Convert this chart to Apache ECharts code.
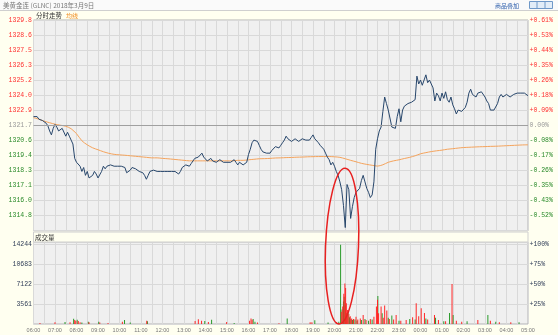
<!DOCTYPE html>
<html><head><meta charset="utf-8">
<script src="https://cdn.jsdelivr.net/npm/echarts@6/dist/echarts.min.js"></script>
<style>html,body{margin:0;padding:0;background:#fffff0}#c{width:558px;height:335px}</style>
</head><body><div id="c"></div>
<script>
const titleText = '美黄金连 (GLNC) 2018年3月9日';
const overlayText = '商品叠加';
const priceHeader = '分时走势';
const avgHeader = '均线';
const volHeader = '成交量';

const xLabels = ['06:00','07:00','08:00','09:00','10:00','11:00','12:00','13:00','14:00','15:00','16:00','17:00',
  '18:00','19:00','20:00','21:00','22:00','23:00','00:00','01:00','02:00','03:00','04:00','05:00'];
const priceTicks = ['1313.6','1314.8','1316.0','1317.1','1318.3','1319.4','1320.6','1321.7','1322.9','1324.0','1325.2','1326.3','1327.5','1328.6','1329.8'];
const pctTicks = ['-0.61%','-0.52%','-0.43%','-0.35%','-0.26%','-0.17%','-0.08%','0.00%','+0.09%','+0.18%','+0.26%','+0.35%','+0.44%','+0.53%','+0.61%'];
const volTicks = ['0','3561','7122','10683','14244'];
const volPctTicks = ['','+25%','+50%','+75%','+100%'];
const basePrice = 1321.73;
const priceStep = 1.1529;
const volStep = 3561;
const volTop = 14600;

// price every 5 minutes from 06:00
const prices = [
1322.4,1322.3,1322.4,1322.2,1322.3,1322.1,1322.2,1321.9,1321.7,1321.3,
1321.0,1321.5,1321.8,1321.6,1321.3,1321.2,1321.5,1321.6,1320.9,1321.2,
1320.9,1320.6,1320.3,1319.2,1318.9,1319.0,1318.6,1318.2,1318.5,1317.9,
1318.2,1317.7,1317.6,1317.9,1318.2,1318.0,1317.7,1317.6,1318.2,1318.6,
1318.4,1318.6,1318.6,1318.7,1318.6,1318.6,1318.7,1318.6,1318.5,1318.6,
1318.7,1318.5,1318.1,1318.2,1318.3,1318.5,1318.6,1318.4,1318.3,1318.2,
1318.2,1318.1,1317.9,1317.6,1317.9,1318.2,1318.3,1318.3,1318.2,1318.2,
1318.3,1318.2,1318.2,1318.2,1318.2,1318.2,1318.3,1318.2,1318.1,1318.2,
1318.2,1318.0,1318.2,1318.5,1318.6,1318.7,1318.6,1318.6,1318.8,1318.9,
1319.2,1319.2,1319.3,1319.4,1319.6,1319.3,1319.2,1319.0,1319.1,1319.2,
1319.0,1318.9,1318.9,1319.0,1319.1,1319.0,1318.9,1318.8,1318.9,1318.9,
1318.9,1318.9,1319.1,1318.9,1318.7,1318.9,1318.9,1318.7,1318.6,1318.9,
1319.5,1319.9,1320.4,1320.6,1320.6,1320.5,1320.2,1319.9,1319.7,1319.7,
1319.6,1319.5,1319.6,1319.8,1319.9,1320.1,1320.1,1320.0,1320.2,1320.4,
1320.6,1320.9,1320.7,1320.6,1320.5,1320.6,1320.7,1320.7,1320.5,1320.6,
1320.7,1320.7,1320.6,1320.6,1320.6,1320.8,1321.0,1320.7,1320.6,1320.4,
1320.2,1320.1,1319.9,1319.6,1319.3,1319.1,1318.7,1318.9,1318.6,1318.2,
1317.9,1317.4,1316.8,1315.6,1313.9,1317.2,1316.8,1314.6,1315.5,1316.2,
1316.6,1316.7,1316.9,1317.5,1317.9,1317.4,1316.9,1316.6,1316.2,1316.4,
1317.4,1319.9,1320.7,1321.3,1321.6,1322.8,1323.9,1323.4,1322.9,1322.8,
1321.6,1321.7,1321.5,1322.4,1323.0,1322.0,1322.9,1323.2,1323.3,1323.4,
1323.3,1323.5,1323.6,1323.7,1325.5,1324.9,1325.2,1324.8,1325.2,1325.6,
1325.0,1325.2,1324.9,1324.6,1323.6,1324.2,1324.0,1323.6,1324.2,1323.8,
1324.3,1323.7,1323.5,1323.9,1323.3,1323.0,1322.6,1322.9,1322.9,1322.8,
1322.9,1323.1,1323.5,1324.2,1324.5,1324.1,1324.0,1323.9,1324.2,1324.2,
1324.3,1324.2,1323.9,1323.6,1323.4,1322.9,1322.9,1322.9,1322.9,1323.4,
1323.9,1324.1,1323.9,1323.9,1324.1,1324.0,1323.9,1324.0,1324.1,1324.2,
1324.2,1324.2,1324.2,1324.2,1324.2,1324.1,1324.0
];
// average line every 15 minutes from 06:00
const avgPrices = [
1322.32,1322.20,1322.05,1321.93,1321.82,1321.74,1321.66,1321.47,1321.09,1320.55,
1320.24,1320.01,1319.86,1319.71,1319.59,1319.51,1319.47,1319.44,1319.40,1319.36,
1319.32,1319.28,1319.24,1319.24,1319.20,1319.17,1319.13,1319.09,1319.05,1319.01,
1319.01,1319.01,1319.01,1319.01,1319.01,1319.01,1319.01,1319.01,1319.05,1319.05,
1319.09,1319.13,1319.17,1319.18,1319.20,1319.23,1319.24,1319.26,1319.27,1319.29,
1319.30,1319.32,1319.33,1319.34,1319.34,1319.34,1319.32,1319.28,1319.17,1319.05,
1318.94,1318.82,1318.74,1318.67,1318.61,1318.71,1318.90,1319.01,1319.09,1319.19,
1319.28,1319.40,1319.55,1319.64,1319.72,1319.78,1319.83,1319.90,1319.94,1319.99,
1320.03,1320.05,1320.07,1320.09,1320.10,1320.12,1320.13,1320.15,1320.17,1320.19,
1320.21,1320.23,1320.24
];

const redTimes = ['06:18','07:00','07:42','07:55','07:58','08:05','08:10','08:35','09:05','09:28','10:08','11:16',
 '13:31','13:40','13:49','14:08','14:59','16:03','16:07','16:10','16:25','17:25','18:52','18:57','20:05',
 '20:19','20:23','20:26','20:29','20:31','20:33','20:36','20:40','20:44','20:48','20:53','21:00','21:05','21:12',
 '21:20','21:28','21:40','21:50','21:57','22:00','22:03','22:10','22:16','22:20','22:26','22:33','22:45','22:52',
 '23:05','23:20','23:38','23:48','23:55','00:02','00:11','00:20','00:39','00:50','01:10','01:28','01:40','01:55',
 '02:40','03:15','03:40','04:12'];
const redVols = [200,300,300,700,600,550,300,300,250,200,400,600,
 550,850,600,350,350,600,1000,750,250,150,300,300,300,
 2200,3100,5400,7200,6400,3700,2500,1800,1400,1000,900,1300,800,1000,
 1600,700,900,1300,3100,4300,1900,3100,1100,3300,2400,900,800,1600,
 600,700,1200,3700,1400,2800,1950,800,1600,700,500,7100,600,400,
 700,600,300,300];
const greenTimes = ['07:28','07:52','08:02','08:15','08:33','09:02','10:14','10:30','11:18','13:58','14:17','15:20',
 '16:13','16:18','17:48','19:05','19:42','20:12','20:17','20:21','20:25','20:27','20:30','20:34','20:38','20:42',
 '20:46','20:50','20:57','21:03','21:15','21:25','21:35','21:45','22:01','22:13','22:30','22:40','23:00','23:30',
 '23:45','00:15','00:42','01:05','01:21','01:31','02:10','03:08','03:30','04:35'];
const greenVols = [350,950,750,250,400,400,700,250,500,550,750,200,
 900,400,1000,650,250,400,14100,2600,4000,4850,3300,1950,2200,1200,
 900,700,800,600,700,900,600,800,5000,1900,1100,1500,600,900,
 800,1000,1100,500,1950,1600,500,1600,400,300];

// annotation ellipse (data terms)
const markTime = '20:21';
const markTopPrice = 1318.45;
const markBottomVol = 0;
const markHalfWidthMin = 46;

function toMin(t){ const [h,m]=t.split(':').map(Number); return ((h*60+m)-360+1440)%1440; }

const pMin = basePrice - 7*priceStep, pMax = basePrice + 7*priceStep;
const monoFont = '"Liberation Mono", monospace';
const cjkFont = '"Noto Sans CJK SC", sans-serif';
function pIdx(v){ return Math.round((v - pMin)/priceStep); }
function richStyles(){
  return {
    u:{color:'#ff3030',fontSize:6.5,fontFamily:monoFont},
    d:{color:'#2a8a2a',fontSize:6.5,fontFamily:monoFont},
    z:{color:'#999999',fontSize:6.5,fontFamily:monoFont},
    v:{color:'#33405a',fontSize:6.5,fontFamily:monoFont}
  };
}
function wrap(k, text){ const s = k>7?'u':(k<7?'d':'z'); return '{'+s+'|'+text+'}'; }

const gridLine = {show:true, lineStyle:{color:'#d9d9d9', width:1}};

const chart = echarts.init(document.getElementById('c'), null, {renderer:'canvas'});
const option = {
  animation:false,
  backgroundColor:'#fffff0',
  grid:[
    {left:33.5, right:30, top:20, height:210.7, show:true, backgroundColor:'#f0f0f0', borderColor:'#b5b5b5', borderWidth:1},
    {left:33.5, right:30, top:242, height:82, show:true, backgroundColor:'#f0f0f0', borderColor:'#b5b5b5', borderWidth:1}
  ],
  xAxis:[
    {gridIndex:0, type:'value', min:0, max:1380, interval:30, axisLine:{show:false}, axisTick:{show:false}, axisLabel:{show:false}, splitLine:gridLine},
    {gridIndex:1, type:'value', min:0, max:1380, interval:30, axisLine:{show:false}, axisTick:{show:false}, splitLine:gridLine,
     axisLabel:{show:true, margin:3, fontSize:5.5, color:'#777', fontFamily:'"Liberation Sans", sans-serif',
       formatter:(v)=> (v%60===0 ? xLabels[v/60] : '')}}
  ],
  yAxis:[
    {gridIndex:0, type:'value', min:pMin, max:pMax, interval:priceStep, axisLine:{show:false}, axisTick:{show:false}, splitLine:gridLine,
     axisLabel:{margin:1.5, showMinLabel:false, formatter:(v)=>{const k=pIdx(v); return k<=0?'':wrap(k, priceTicks[k]);}, rich:richStyles()}},
    {gridIndex:0, type:'value', position:'right', min:pMin, max:pMax, interval:priceStep, axisLine:{show:false}, axisTick:{show:false}, splitLine:{show:false},
     axisLabel:{margin:1.5, showMinLabel:false, formatter:(v)=>{const k=pIdx(v); return k<=0?'':wrap(k, pctTicks[k]);}, rich:richStyles()}},
    {gridIndex:1, type:'value', min:0, max:volTop, interval:volStep, axisLine:{show:false}, axisTick:{show:false}, splitLine:gridLine,
     axisLabel:{margin:1.5, formatter:(v)=>{const k=v/volStep; return (Number.isInteger(k)&&k>0)?'{v|'+volTicks[k]+'}':'';}, rich:richStyles()}},
    {gridIndex:1, type:'value', position:'right', min:0, max:volTop, interval:volStep, axisLine:{show:false}, axisTick:{show:false}, splitLine:{show:false},
     axisLabel:{margin:1.5, formatter:(v)=>{const k=v/volStep; return (Number.isInteger(k)&&k>0)?'{v|'+volPctTicks[k]+'}':'';}, rich:richStyles()}}
  ],
  series:[
    {type:'line', xAxisIndex:0, yAxisIndex:0, data:avgPrices.map((p,i)=>[i*15,p]), showSymbol:false, smooth:0.3,
     lineStyle:{color:'#f4a35c', width:1}, z:3},
    {type:'line', xAxisIndex:0, yAxisIndex:0, data:prices.map((p,i)=>[i*5,p]), showSymbol:false,
     lineStyle:{color:'#27466b', width:1}, z:4,
     markLine:{silent:true, symbol:'none', label:{show:false}, lineStyle:{color:'#a0a0a0', type:'solid', width:1}, data:[{yAxis:basePrice}]}},
    {type:'bar', xAxisIndex:1, yAxisIndex:2, barWidth:1, barGap:'-100%', data:greenTimes.map((t,i)=>[toMin(t),greenVols[i]]), itemStyle:{color:'#2a9a2a'}},
    {type:'bar', xAxisIndex:1, yAxisIndex:2, barWidth:1, barGap:'-100%', data:redTimes.map((t,i)=>[toMin(t),redVols[i]]), itemStyle:{color:'#ff2626'}}
  ],
  graphic:[
    {type:'rect', shape:{x:0,y:0,width:558,height:10}, style:{fill:'#fafafa'}, silent:true},
    {type:'line', shape:{x1:0,y1:10.5,x2:558,y2:10.5}, style:{stroke:'#cfcfcf', lineWidth:1}, silent:true},
    {type:'text', x:3, y:5.5, style:{text:titleText, fill:'#777', fontSize:6.5, fontFamily:cjkFont, verticalAlign:'middle'}},
    {type:'text', x:495, y:5.5, style:{text:overlayText, fill:'#2a5caa', fontSize:6, fontFamily:cjkFont, verticalAlign:'middle'}},
    {type:'rect', shape:{x:529.5,y:1.5,width:23,height:7}, style:{fill:'#e3edf8', stroke:'#6f98c8', lineWidth:1}},
    {type:'line', shape:{x1:537,y1:2,x2:537,y2:8}, style:{stroke:'#6f98c8', lineWidth:1}},
    {type:'line', shape:{x1:545,y1:2,x2:545,y2:8}, style:{stroke:'#6f98c8', lineWidth:1}},
    {type:'text', x:36, y:15.5, style:{text:priceHeader, fill:'#333', fontSize:6.5, fontFamily:cjkFont, verticalAlign:'middle'}},
    {type:'text', x:66, y:15.5, style:{text:avgHeader, fill:'#f08a1c', fontSize:6, fontFamily:cjkFont, verticalAlign:'middle'}},
    {type:'rect', shape:{x:33.5,y:232,width:494.5,height:10}, style:{fill:'#fffff0', stroke:'#cfcfcf', lineWidth:1}},
    {type:'text', x:35, y:237.5, style:{text:volHeader, fill:'#333', fontSize:6.5, fontFamily:cjkFont, verticalAlign:'middle'}}
  ]
};
chart.setOption(option);

// annotation ellipse positioned through the axes
const mx = toMin(markTime);
const cxp = chart.convertToPixel({xAxisIndex:0}, mx);
const rxp = chart.convertToPixel({xAxisIndex:0}, mx + markHalfWidthMin) - cxp;
const yTop = chart.convertToPixel({yAxisIndex:0}, markTopPrice);
const yBot = chart.convertToPixel({yAxisIndex:2}, markBottomVol);
const g = option.graphic.slice();
g.push({type:'ellipse', x:cxp, y:(yTop+yBot)/2, rotation:-0.04,
  shape:{cx:0, cy:0, rx:rxp, ry:(yBot-yTop)/2}, style:{fill:'none', stroke:'#e82020', lineWidth:1.5}, z:100});
chart.setOption({graphic:g}, {replaceMerge:['graphic']});
</script>
</body></html>
